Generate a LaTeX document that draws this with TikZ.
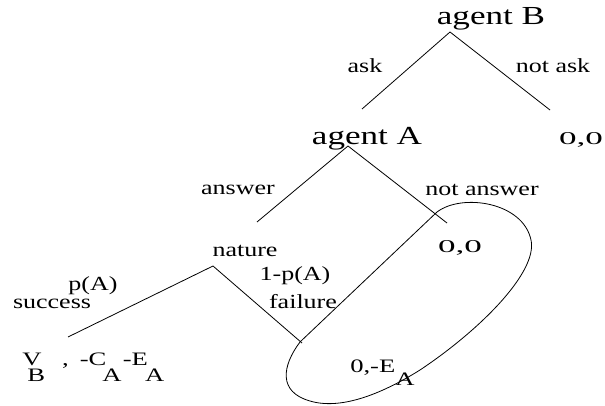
\documentclass[tikz,border=0pt]{standalone}
\usepackage{fontspec}
\setmainfont{Liberation Serif}
\begin{document}
\begin{tikzpicture}[x=1pt,y=-1pt,
  edge/.style={line width=0.8pt,black},
  big/.style={font=\fontsize{26}{28}\selectfont, inner sep=0pt, anchor=base, xscale=1.35},
  lab/.style={font=\fontsize{20}{22}\selectfont, inner sep=0pt, anchor=base, xscale=1.3},
  pay/.style={font=\fontsize{18}{20}\selectfont, inner sep=0pt, anchor=base, xscale=1.95},
  payw/.style={font=\fontsize{19}{21}\selectfont, inner sep=0pt, anchor=base west, xscale=1.4}]
\useasboundingbox (0,0) rectangle (605,406);
% decision nodes (apex points)
\coordinate (b) at (450,32);
\coordinate (a) at (348,146);
\coordinate (n) at (213,266);
\coordinate (bl) at (362,109);
\coordinate (br) at (550,110);
\coordinate (al) at (257,222);
\coordinate (ar) at (447,223);
\coordinate (nl) at (68,337);
\coordinate (nr) at (302,343);
% labels
\node[big] (agentB) at (491,25) {agent B};
\node[big] (agentA) at (367,145) {agent A};
\node[lab] (nature) at (245,256) {nature};
\node[lab] (ask) at (365,73) {ask};
\node[lab] (notask) at (553,73) {not ask};
\node[lab] (answer) at (238,195) {answer};
\node[lab] (notanswer) at (482,196) {not answer};
\node[lab] (pA) at (93,290) {p(A)};
\node[lab] (success) at (52,308) {success};
\node[lab] (qA) at (295,280) {1-p(A)};
\node[lab] (failure) at (303,308) {failure};
% payoffs
\node[pay] (p1) at (581,145) {0,0};
\node[pay] (p2) at (460,252) {0,0};
\node[payw] (p3) at (22,365) {V\kern-10pt\raisebox{-16pt}{B}\hspace{12pt},\hspace{8pt}-C\kern-3pt\raisebox{-16pt}{A}\kern1pt-E\kern-2pt\raisebox{-16pt}{A}};
\node[payw] (p4) at (350,372) {0,-E\raisebox{-13pt}{A}};
% branches
\draw[edge] (b) -- (bl);
\draw[edge] (b) -- (br);
\draw[edge] (a) -- (al);
\draw[edge] (a) -- (ar);
\draw[edge] (n) -- (nl);
\draw[edge] (n) -- (nr);
% information loop
\coordinate (l1) at (437,212);
\coordinate (l2) at (531,240);
\coordinate (l3) at (420,370);
\coordinate (l4) at (310,401);
\coordinate (l5) at (300,342);
\draw[edge] (l1) .. controls (462,193) and (523,202) .. (l2)
  .. controls (538,272) and (480,330) .. (l3)
  .. controls (380,395) and (340,410) .. (l4)
  .. controls (278,392) and (282,366) .. (l5) -- cycle;
\end{tikzpicture}
\end{document}
